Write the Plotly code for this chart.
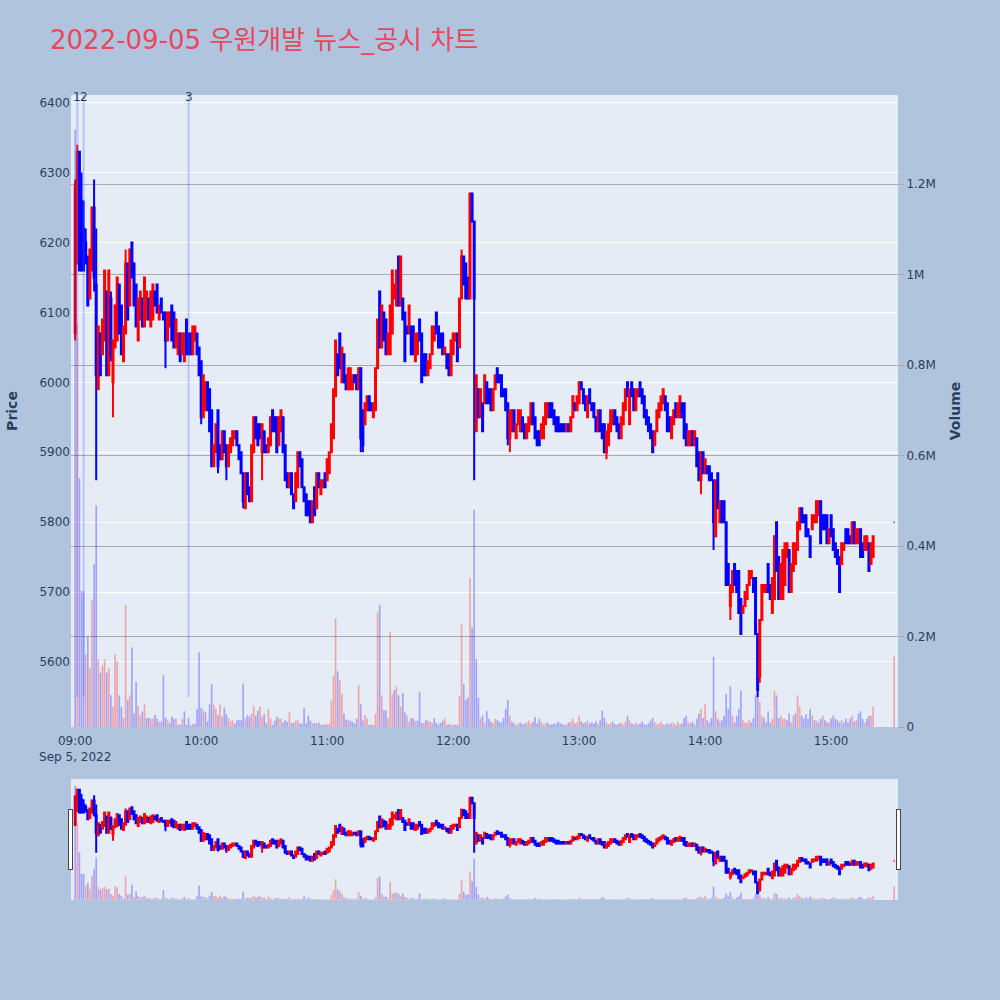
import pandas as pd
import plotly.graph_objects as go

FONT = "Verdana, DejaVu Sans, Noto Sans CJK KR, sans-serif"
title_text = "2022-09-05 우원개발 뉴스_공시 차트"

# 1-minute candles 09:00 .. 15:20, then the 15:30 closing auction
opens = [
    6070, 6170, 6330, 6260, 6220, 6200, 6180, 6120, 6160, 6250,
    6140, 5990, 6070, 6040, 6060, 6130, 6010, 6120, 6000, 6050,
    6060, 6140, 6110, 6030, 6070, 6170, 6110, 6200, 6170, 6140,
    6060, 6090, 6120, 6080, 6090, 6120, 6080, 6090, 6130, 6140,
    6090, 6120, 6100, 6100, 6060, 6080, 6110, 6100, 6050, 6040,
    6070, 6040, 6030, 6090, 6070, 6070, 6040, 6060, 6070, 6050,
    6030, 5950, 5960, 6000, 5990, 5960, 5880, 5900, 5960, 5910,
    5890, 5930, 5910, 5880, 5900, 5910, 5920, 5930, 5910, 5900,
    5870, 5820, 5870, 5850, 5830, 5900, 5950, 5940, 5940, 5900,
    5930, 5910, 5900, 5910, 5960, 5950, 5950, 5910, 5930, 5950,
    5910, 5870, 5850, 5870, 5840, 5830, 5850, 5900, 5890, 5850,
    5840, 5830, 5830, 5800, 5850, 5820, 5870, 5840, 5850, 5870,
    5860, 5870, 5900, 5920, 5980, 6040, 6070, 6000, 6040, 6010,
    5990, 5990, 5990, 6010, 6010, 5990, 6020, 5960, 5940, 5960,
    5980, 5970, 5950, 5960, 6020, 6130, 6050, 6100, 6090, 6040,
    6040, 6070, 6120, 6110, 6180, 6110, 6120, 6100, 6080, 6070,
    6080, 6080, 6030, 6040, 6090, 6070, 6040, 6040, 6010, 6020,
    6040, 6060, 6100, 6080, 6070, 6070, 6040, 6040, 6040, 6010,
    6040, 6060, 6070, 6050, 6120, 6180, 6170, 6150, 6120, 6270,
    6230, 5930, 5990, 5950, 5970, 5970, 6000, 5990, 5990, 5960,
    5990, 6020, 6010, 6010, 5990, 5990, 5970, 5920, 5930, 5960,
    5920, 5940, 5930, 5950, 5940, 5920, 5930, 5940, 5970, 5950,
    5930, 5930, 5920, 5920, 5940, 5950, 5970, 5970, 5960, 5950,
    5950, 5940, 5940, 5940, 5930, 5940, 5930, 5950, 5970, 5960,
    5970, 6000, 5990, 5980, 5950, 5990, 5970, 5970, 5950, 5930,
    5960, 5940, 5940, 5900, 5910, 5930, 5940, 5960, 5950, 5940,
    5920, 5940, 5960, 6000, 5940, 6000, 5990, 5960, 5980, 6000,
    5990, 5980, 5960, 5950, 5940, 5930, 5910, 5930, 5950, 5960,
    5970, 5980, 5970, 5950, 5920, 5940, 5970, 5950, 5950, 5970,
    5970, 5940, 5910, 5910, 5930, 5910, 5920, 5900, 5860, 5900,
    5870, 5880, 5880, 5870, 5860, 5780, 5870, 5800, 5830, 5830,
    5800, 5740, 5680, 5700, 5740, 5730, 5730, 5690, 5670, 5680,
    5690, 5710, 5720, 5720, 5720, 5640, 5580, 5660, 5700, 5700,
    5740, 5710, 5670, 5690, 5800, 5750, 5690, 5690, 5710, 5750,
    5760, 5700, 5730, 5740, 5760, 5790, 5820, 5810, 5810, 5790,
    5780, 5790, 5800, 5800, 5810, 5830, 5810, 5810, 5810, 5770,
    5810, 5790, 5770, 5760, 5750, 5740, 5760, 5790, 5790, 5780,
    5770, 5800, 5770, 5770, 5790, 5770, 5760, 5760, 5770, 5740, 5750,
    5800,
]
highs = [
    6290, 6340, 6330, 6300, 6260, 6220, 6180, 6190, 6250, 6290,
    6220, 6080, 6070, 6090, 6160, 6130, 6160, 6130, 6060, 6110,
    6150, 6140, 6110, 6080, 6190, 6170, 6190, 6200, 6170, 6140,
    6120, 6130, 6120, 6150, 6130, 6120, 6130, 6140, 6130, 6140,
    6110, 6120, 6100, 6100, 6100, 6100, 6110, 6100, 6090, 6070,
    6070, 6070, 6070, 6090, 6070, 6070, 6080, 6080, 6070, 6050,
    6030, 6010, 6000, 6000, 5990, 5960, 5910, 5940, 5960, 5910,
    5930, 5930, 5910, 5910, 5920, 5930, 5930, 5930, 5910, 5900,
    5870, 5870, 5870, 5850, 5910, 5950, 5950, 5940, 5940, 5940,
    5930, 5910, 5920, 5950, 5960, 5950, 5950, 5950, 5960, 5950,
    5910, 5870, 5870, 5870, 5840, 5870, 5900, 5900, 5890, 5850,
    5840, 5830, 5830, 5830, 5850, 5870, 5870, 5860, 5860, 5870,
    5890, 5900, 5940, 5990, 6060, 6040, 6070, 6050, 6040, 6010,
    6020, 6020, 6010, 6010, 6010, 6020, 6020, 5960, 5970, 5980,
    5980, 5970, 5970, 6020, 6090, 6130, 6110, 6100, 6090, 6070,
    6110, 6160, 6140, 6160, 6180, 6180, 6120, 6100, 6080, 6110,
    6080, 6080, 6070, 6070, 6090, 6070, 6040, 6040, 6030, 6040,
    6080, 6080, 6100, 6080, 6070, 6070, 6050, 6040, 6040, 6060,
    6070, 6070, 6070, 6120, 6190, 6180, 6170, 6150, 6270, 6270,
    6230, 6010, 5990, 5990, 5970, 6010, 6000, 5990, 5990, 5990,
    6010, 6020, 6010, 6010, 5990, 5990, 5970, 5960, 5960, 5960,
    5940, 5960, 5960, 5950, 5940, 5940, 5950, 5970, 5970, 5950,
    5930, 5930, 5940, 5950, 5970, 5970, 5970, 5970, 5960, 5950,
    5950, 5940, 5940, 5940, 5940, 5940, 5950, 5980, 5970, 5980,
    6000, 6000, 5990, 5980, 5980, 5990, 5970, 5970, 5950, 5960,
    5960, 5940, 5940, 5930, 5940, 5960, 5960, 5960, 5950, 5940,
    5950, 5970, 5990, 6000, 5990, 6000, 5990, 5990, 5990, 6000,
    5990, 5980, 5960, 5950, 5940, 5930, 5930, 5960, 5970, 5980,
    5990, 5980, 5970, 5950, 5950, 5960, 5970, 5970, 5980, 5970,
    5970, 5940, 5930, 5930, 5930, 5930, 5920, 5900, 5900, 5900,
    5890, 5880, 5880, 5870, 5860, 5860, 5870, 5830, 5830, 5830,
    5800, 5740, 5710, 5730, 5740, 5730, 5730, 5690, 5680, 5700,
    5710, 5730, 5730, 5720, 5720, 5640, 5660, 5710, 5710, 5710,
    5740, 5710, 5720, 5780, 5800, 5750, 5740, 5760, 5770, 5770,
    5760, 5740, 5770, 5770, 5800, 5820, 5820, 5810, 5810, 5790,
    5780, 5810, 5810, 5830, 5830, 5830, 5810, 5810, 5810, 5790,
    5810, 5790, 5770, 5760, 5750, 5770, 5770, 5790, 5790, 5780,
    5800, 5800, 5790, 5790, 5790, 5770, 5780, 5780, 5770, 5770, 5780,
    5800,
]
lows = [
    6060, 6170, 6160, 6160, 6160, 6170, 6110, 6120, 6160, 6130,
    5860, 5990, 6010, 6040, 6060, 6010, 6010, 6030, 5950, 6050,
    6060, 6070, 6040, 6030, 6070, 6090, 6110, 6150, 6110, 6080,
    6060, 6090, 6080, 6080, 6090, 6090, 6080, 6090, 6110, 6100,
    6090, 6100, 6090, 6020, 6060, 6080, 6060, 6050, 6050, 6040,
    6030, 6040, 6030, 6040, 6040, 6040, 6040, 6060, 6040, 6010,
    5940, 5950, 5960, 5960, 5930, 5880, 5880, 5900, 5870, 5890,
    5890, 5900, 5860, 5880, 5900, 5910, 5920, 5910, 5890, 5870,
    5820, 5820, 5840, 5830, 5830, 5900, 5920, 5910, 5920, 5860,
    5900, 5900, 5900, 5910, 5930, 5930, 5900, 5910, 5930, 5900,
    5860, 5850, 5850, 5840, 5820, 5830, 5850, 5880, 5850, 5830,
    5810, 5810, 5800, 5800, 5810, 5820, 5850, 5840, 5850, 5850,
    5860, 5870, 5900, 5920, 5980, 6010, 6020, 6000, 6000, 5990,
    5990, 5990, 5990, 6000, 5990, 5990, 5900, 5900, 5940, 5960,
    5960, 5960, 5950, 5960, 6020, 6050, 6050, 6060, 6040, 6040,
    6040, 6070, 6120, 6110, 6110, 6110, 6090, 6030, 6070, 6070,
    6040, 6040, 6030, 6040, 6060, 6000, 6010, 6010, 6010, 6020,
    6040, 6060, 6070, 6050, 6050, 6040, 6040, 6020, 6010, 6010,
    6040, 6060, 6030, 6050, 6120, 6140, 6120, 6120, 6120, 6230,
    5860, 5930, 5950, 5950, 5930, 5970, 5970, 5970, 5960, 5960,
    5990, 6000, 6000, 5980, 5980, 5960, 5910, 5900, 5930, 5930,
    5920, 5940, 5930, 5930, 5920, 5920, 5930, 5940, 5940, 5920,
    5910, 5910, 5920, 5920, 5940, 5950, 5950, 5950, 5940, 5930,
    5930, 5930, 5930, 5930, 5930, 5930, 5930, 5950, 5960, 5960,
    5970, 5990, 5970, 5960, 5950, 5970, 5960, 5950, 5930, 5930,
    5930, 5920, 5900, 5890, 5910, 5930, 5940, 5940, 5930, 5920,
    5920, 5940, 5960, 5980, 5940, 5980, 5960, 5960, 5980, 5980,
    5970, 5950, 5940, 5930, 5920, 5900, 5910, 5930, 5950, 5960,
    5970, 5960, 5930, 5930, 5920, 5940, 5950, 5950, 5950, 5950,
    5920, 5910, 5910, 5910, 5910, 5910, 5880, 5860, 5840, 5870,
    5870, 5870, 5860, 5860, 5760, 5780, 5820, 5800, 5800, 5800,
    5710, 5710, 5660, 5700, 5710, 5700, 5670, 5640, 5670, 5680,
    5690, 5710, 5720, 5700, 5640, 5550, 5570, 5660, 5700, 5700,
    5700, 5690, 5670, 5690, 5730, 5690, 5690, 5690, 5710, 5750,
    5700, 5700, 5730, 5740, 5760, 5790, 5800, 5800, 5780, 5780,
    5750, 5790, 5800, 5800, 5810, 5770, 5790, 5790, 5770, 5770,
    5780, 5760, 5750, 5740, 5700, 5740, 5760, 5770, 5770, 5770,
    5770, 5770, 5770, 5770, 5750, 5750, 5760, 5760, 5730, 5740, 5750,
    5800,
]
closes = [
    6280, 6330, 6160, 6160, 6160, 6170, 6110, 6190, 6250, 6150,
    6010, 6080, 6010, 6090, 6160, 6010, 6160, 6040, 6060, 6110,
    6150, 6070, 6040, 6080, 6170, 6090, 6190, 6150, 6110, 6080,
    6120, 6130, 6080, 6150, 6130, 6090, 6130, 6140, 6110, 6100,
    6110, 6100, 6090, 6060, 6100, 6100, 6060, 6050, 6090, 6070,
    6030, 6070, 6070, 6040, 6040, 6040, 6080, 6080, 6040, 6010,
    5950, 6010, 6000, 5960, 5930, 5880, 5910, 5940, 5880, 5890,
    5930, 5900, 5880, 5910, 5920, 5930, 5930, 5910, 5890, 5870,
    5830, 5870, 5840, 5830, 5910, 5950, 5920, 5910, 5920, 5940,
    5900, 5900, 5920, 5950, 5930, 5930, 5900, 5950, 5960, 5900,
    5860, 5850, 5870, 5840, 5820, 5870, 5900, 5880, 5850, 5830,
    5810, 5810, 5800, 5830, 5810, 5870, 5850, 5860, 5860, 5850,
    5890, 5900, 5940, 5990, 6060, 6010, 6020, 6050, 6000, 5990,
    6020, 6020, 6010, 6000, 5990, 6020, 5920, 5910, 5970, 5980,
    5960, 5960, 5970, 6020, 6090, 6050, 6110, 6060, 6040, 6070,
    6110, 6160, 6140, 6160, 6110, 6180, 6090, 6030, 6070, 6110,
    6040, 6040, 6070, 6070, 6060, 6000, 6010, 6010, 6030, 6040,
    6080, 6080, 6070, 6050, 6050, 6040, 6050, 6020, 6010, 6060,
    6070, 6070, 6030, 6120, 6180, 6140, 6120, 6120, 6270, 6230,
    6120, 6010, 5950, 5990, 5930, 6010, 5970, 5970, 5960, 5990,
    6010, 6000, 6000, 5980, 5980, 5960, 5920, 5960, 5960, 5930,
    5940, 5960, 5960, 5930, 5920, 5940, 5950, 5970, 5940, 5920,
    5910, 5910, 5940, 5950, 5970, 5970, 5950, 5950, 5940, 5930,
    5930, 5930, 5930, 5930, 5940, 5930, 5950, 5980, 5960, 5980,
    6000, 5990, 5970, 5960, 5980, 5970, 5960, 5950, 5930, 5960,
    5930, 5920, 5900, 5930, 5940, 5960, 5960, 5940, 5930, 5920,
    5950, 5970, 5990, 5980, 5990, 5980, 5960, 5990, 5990, 5980,
    5970, 5950, 5940, 5930, 5920, 5900, 5930, 5960, 5970, 5980,
    5990, 5960, 5930, 5930, 5950, 5960, 5950, 5970, 5980, 5950,
    5920, 5910, 5930, 5930, 5910, 5930, 5880, 5860, 5900, 5870,
    5890, 5870, 5860, 5860, 5800, 5860, 5820, 5830, 5800, 5800,
    5710, 5710, 5710, 5730, 5710, 5700, 5670, 5640, 5680, 5700,
    5710, 5730, 5730, 5700, 5640, 5560, 5660, 5710, 5710, 5710,
    5700, 5690, 5720, 5780, 5730, 5690, 5740, 5760, 5770, 5770,
    5700, 5740, 5770, 5770, 5800, 5820, 5800, 5800, 5780, 5780,
    5750, 5810, 5810, 5830, 5830, 5770, 5790, 5790, 5770, 5790,
    5780, 5760, 5750, 5740, 5700, 5770, 5770, 5770, 5770, 5770,
    5800, 5770, 5790, 5790, 5750, 5750, 5780, 5780, 5730, 5770, 5780,
    5800,
]
# volume in thousands of shares
volumes_k = [
    1320, 890, 550, 300, 300, 160, 200, 130, 280, 360,
    490, 150, 120, 136, 150, 120, 130, 70, 45, 160,
    145, 70, 45, 20, 270, 60, 70, 176, 30, 100,
    47, 26, 34, 50, 20, 20, 18, 18, 27, 19,
    12, 12, 115, 21, 16, 9, 23, 18, 18, 5,
    5, 18, 35, 5, 20, 3, 7, 7, 40, 165,
    42, 37, 32, 13, 50, 95, 49, 40, 26, 49,
    23, 43, 29, 20, 13, 15, 7, 15, 15, 15,
    96, 19, 26, 23, 30, 47, 25, 36, 45, 23,
    29, 9, 40, 19, 5, 14, 23, 19, 18, 10,
    15, 12, 32, 9, 9, 14, 15, 8, 8, 42,
    8, 25, 14, 8, 9, 8, 10, 5, 5, 5,
    7, 7, 58, 113, 240, 123, 104, 73, 30, 16,
    16, 14, 12, 7, 18, 93, 50, 14, 26, 18,
    5, 5, 5, 29, 253, 270, 70, 37, 37, 19,
    210, 72, 82, 90, 70, 45, 75, 32, 26, 12,
    19, 19, 14, 14, 78, 9, 9, 16, 14, 12,
    9, 19, 9, 5, 9, 14, 19, 5, 6, 5,
    5, 5, 5, 68, 227, 95, 60, 65, 330, 220,
    480, 150, 65, 20, 25, 10, 35, 18, 12, 8,
    18, 15, 12, 10, 20, 40, 60, 25, 12, 8,
    5, 8, 10, 6, 8, 10, 14, 8, 12, 22,
    8, 18, 10, 6, 8, 10, 5, 6, 8, 6,
    12, 8, 6, 5, 6, 10, 12, 18, 8, 10,
    25, 12, 8, 10, 14, 8, 10, 8, 12, 6,
    15, 36, 20, 10, 6, 8, 12, 6, 5, 8,
    10, 6, 12, 25, 15, 8, 6, 10, 5, 8,
    12, 6, 5, 8, 14, 20, 10, 6, 8, 12,
    6, 5, 8, 6, 10, 8, 5, 12, 6, 8,
    20, 25, 10, 8, 12, 6, 18, 30, 40, 20,
    50, 15, 10, 20, 155, 35, 18, 12, 15, 25,
    73, 40, 90, 25, 10, 25, 40, 80, 15, 10,
    10, 15, 10, 20, 70, 70, 55, 25, 20, 10,
    35, 10, 18, 80, 70, 20, 25, 18, 18, 15,
    30, 10, 25, 30, 70, 45, 25, 18, 28, 18,
    40, 25, 15, 14, 10, 18, 25, 15, 10, 10,
    18, 25, 18, 15, 10, 15, 10, 18, 10, 18,
    25, 12, 15, 30, 35, 18, 10, 18, 25, 25, 45,
    156,
]
news_times = ["2022-09-05 09:01", "2022-09-05 09:04", "2022-09-05 09:54"]
news_labels = ["1", "2", "3"]

times = list(pd.date_range("2022-09-05 09:00", "2022-09-05 15:20", freq="min")) + [
    pd.Timestamp("2022-09-05 15:30")
]
volumes = [v * 1000 for v in volumes_k]

RED_T = "rgba(255,0,0,0.3)"
BLUE_T = "rgba(0,0,255,0.3)"
vol_colors = [BLUE_T] + [
    RED_T if closes[i] > closes[i - 1] else BLUE_T for i in range(1, len(closes))
]

X_RANGE = ["2022-09-05 08:58:00", "2022-09-05 15:31:50"]
Y_RANGE = [5507, 6411]
V_RANGE = [0, 1.397e6]

fig = go.Figure()
fig.add_trace(
    go.Candlestick(
        x=times, open=opens, high=highs, low=lows, close=closes,
        increasing=dict(line=dict(color="red", width=2), fillcolor="red"),
        decreasing=dict(line=dict(color="blue", width=2), fillcolor="blue"),
        name="Price", yaxis="y",
    )
)
fig.add_trace(
    go.Bar(
        x=times, y=volumes, marker=dict(color=vol_colors, line=dict(width=0)),
        name="Volume", yaxis="y2",
    )
)

for t, lab in zip(news_times, news_labels):
    fig.add_shape(
        type="line", xref="x", yref="y", x0=t, x1=t, y0=min(lows), y1=Y_RANGE[1],
        line=dict(color="rgba(80,100,255,0.3)", width=2),
    )
    fig.add_annotation(
        x=t, y=1, xref="x", yref="paper", text=lab, showarrow=False,
        yanchor="middle", yshift=-2, font=dict(size=12, color="#2a3f5f"),
    )

fig.update_layout(
    width=1000, height=1000,
    paper_bgcolor="lightsteelblue",
    plot_bgcolor="#E5ECF6",
    font=dict(family=FONT, size=12, color="#2a3f5f"),
    title=dict(
        text=title_text, x=0.05, xanchor="left", y=0.96, yanchor="middle",
        font=dict(size=26, color="#E8485E", family=FONT),
    ),
    margin=dict(l=71, r=102, t=95, b=100),
    showlegend=False,
    xaxis=dict(
        type="date", range=X_RANGE, showgrid=False,
        ticks="outside", ticklen=3, tickcolor="rgba(0,0,0,0)",
        rangeslider=dict(visible=True, thickness=0.15, bgcolor="#E5ECF6", range=X_RANGE),
    ),
    yaxis=dict(
        title=dict(text="<b>Price</b>", font=dict(size=14), standoff=18),
        range=Y_RANGE, gridcolor="white", zeroline=False,
    ),
    yaxis2=dict(
        title=dict(text="<b>Volume</b>", font=dict(size=14)),
        overlaying="y", side="right", range=V_RANGE,
        showgrid=True, gridcolor="darkgray", zeroline=False,
        ticks="outside", tickcolor="darkgray", ticklen=5,
    ),
)

fig.write_html(
    "out.html",
    config={"displayModeBar": False},
    post_script="document.body.style.margin='0';",
)
